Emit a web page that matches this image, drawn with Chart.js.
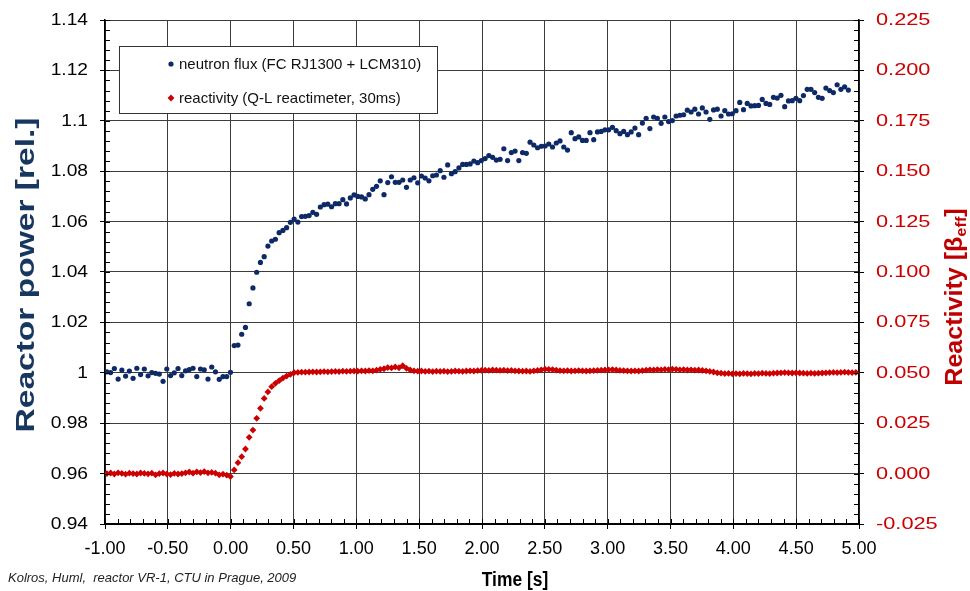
<!DOCTYPE html>
<html>
<head>
<meta charset="utf-8">
<script src="https://cdn.jsdelivr.net/npm/chart.js@4.4.0/dist/chart.umd.min.js"></script>
<style>
  html, body { margin: 0; padding: 0; background: #ffffff; }
  #wrap { width: 970px; height: 591px; position: relative; }
</style>
</head>
<body>
<div id="wrap"><canvas id="chart" width="970" height="591"></canvas></div>
<script>
// Sampling grid of both records (start time and interval, seconds)
const SAMPLE_START = -0.985;
const SAMPLE_STEP = 0.0298;

// Relative reactor power from the fission chamber channel
const neutronFlux = [
  1.0004, 1.0001, 1.0017, 0.9975, 1.0011, 0.9987, 1.0007, 0.9978, 1.0018, 0.9993,
  1.0015, 0.9988, 1.0001, 0.9998, 0.9995, 0.9966, 1.0015, 0.9989, 1.0000, 1.0017,
  0.9989, 1.0008, 1.0013, 1.0018, 0.9985, 1.0015, 1.0012, 0.9975, 1.0023, 1.0004,
  0.9974, 0.9985, 0.9985, 1.0002,
  1.0108, 1.0110, 1.0153, 1.0180, 1.0274, 1.0337, 1.0399, 1.0438, 1.0461, 1.0503,
  1.0523, 1.0530, 1.0556, 1.0565, 1.0576, 1.0597, 1.0610, 1.0598, 1.0620, 1.0621,
  1.0624, 1.0637, 1.0629, 1.0658, 1.0667, 1.0669, 1.0659, 1.0671, 1.0671, 1.0687,
  1.0670, 1.0694, 1.0706, 1.0700, 1.0698, 1.0690, 1.0707, 1.0728, 1.0740, 1.0762,
  1.0707, 1.0755, 1.0778, 1.0756,
  1.0756, 1.0765, 1.0736, 1.0765, 1.0774, 1.0754, 1.0781, 1.0773, 1.0762, 1.0782,
  1.0785, 1.0802, 1.0776, 1.0825, 1.0790, 1.0798, 1.0813, 1.0827, 1.0827, 1.0829,
  1.0840, 1.0834, 1.0842, 1.0850, 1.0862, 1.0855, 1.0844, 1.0847, 1.0889, 1.0842,
  1.0874, 1.0880, 1.0842, 1.0874, 1.0871, 1.0915, 1.0904, 1.0893, 1.0899, 1.0900,
  1.0908, 1.0896, 1.0912, 1.0920, 1.0896, 1.0884, 1.0953, 1.0929, 1.0936, 1.0922,
  1.0922, 1.0953, 1.0925, 1.0956, 1.0958, 1.0964, 1.0964, 1.0974, 1.0961, 1.0949,
  1.0958, 1.0945, 1.0956, 1.0971, 1.0945, 1.0991, 1.1010, 1.0969, 1.1015, 1.1010,
  1.0990, 1.1015, 1.0997, 1.1001, 1.1019, 1.1022, 1.1024, 1.1042, 1.1035, 1.1046,
  1.1027, 1.1051, 1.1035, 1.1006, 1.1043, 1.1046, 1.1019, 1.1040, 1.1027, 1.1028,
  1.1040, 1.1073, 1.1044, 1.1069, 1.1059, 1.1060, 1.1061, 1.1085, 1.1069, 1.1065,
  1.1093, 1.1090, 1.1101, 1.1056, 1.1079, 1.1080, 1.1089, 1.1080, 1.1100, 1.1125,
  1.1125, 1.1112, 1.1093, 1.1089, 1.1130, 1.1120, 1.1112, 1.1143, 1.1125, 1.1135,
  1.1122
];

// Reactivity from the inverse-kinetics reactimeter, in units of beta_eff
const reactivity = [
  0.0000, 0.0003, -0.0002, 0.0004, 0.0001, -0.0003, 0.0002, 0.0000, -0.0002, 0.0003,
  0.0001, -0.0001, 0.0002, -0.0006, 0.0000, 0.0003, -0.0002, -0.0005, 0.0001, -0.0002,
  0.0000, 0.0004, 0.0008, 0.0002, 0.0009, 0.0005, 0.0010, 0.0004, 0.0006, 0.0002,
  -0.0006, -0.0003, -0.0008, -0.0015,
  0.0018, 0.0054, 0.0084, 0.0122, 0.0180, 0.0216, 0.0274, 0.0324, 0.0373, 0.0405,
  0.0431, 0.0448, 0.0461, 0.0474, 0.0484, 0.0492,
  0.0501, 0.0502, 0.0503, 0.0503, 0.0504, 0.0505, 0.0504, 0.0505, 0.0506, 0.0505,
  0.0506, 0.0507, 0.0506, 0.0508, 0.0507, 0.0508, 0.0509, 0.0508, 0.0510, 0.0509,
  0.0511, 0.0510, 0.0513, 0.0517, 0.0520, 0.0526, 0.0524, 0.0529, 0.0525, 0.0535,
  0.0522, 0.0514, 0.0510, 0.0508, 0.0509, 0.0507, 0.0508, 0.0506, 0.0508, 0.0507,
  0.0508, 0.0506, 0.0507, 0.0509, 0.0508, 0.0507, 0.0509, 0.0510, 0.0509, 0.0511,
  0.0512, 0.0513, 0.0512, 0.0514, 0.0513, 0.0512, 0.0513, 0.0511, 0.0512, 0.0510,
  0.0509, 0.0508, 0.0509, 0.0507, 0.0510, 0.0512, 0.0515, 0.0518, 0.0517, 0.0516,
  0.0513, 0.0511, 0.0510, 0.0511, 0.0509, 0.0510, 0.0511, 0.0510, 0.0509, 0.0510,
  0.0511, 0.0512, 0.0513, 0.0514, 0.0515, 0.0516, 0.0514, 0.0512, 0.0511, 0.0510,
  0.0509, 0.0510, 0.0509, 0.0511, 0.0513, 0.0515, 0.0514, 0.0516, 0.0515, 0.0517,
  0.0516, 0.0518, 0.0517, 0.0515, 0.0516, 0.0514, 0.0515, 0.0513, 0.0514, 0.0512,
  0.0510, 0.0507, 0.0504, 0.0500, 0.0498, 0.0496, 0.0497, 0.0495, 0.0496, 0.0495,
  0.0497, 0.0496, 0.0495, 0.0497, 0.0496, 0.0498, 0.0497, 0.0496, 0.0498, 0.0499,
  0.0500, 0.0501, 0.0500, 0.0499, 0.0500, 0.0499, 0.0498, 0.0497, 0.0498, 0.0497,
  0.0498, 0.0499, 0.0500, 0.0501, 0.0502, 0.0501, 0.0502, 0.0503, 0.0502, 0.0501,
  0.0502
];

// Axis ticks
const timeTicks = [-1.0, -0.5, 0.0, 0.5, 1.0, 1.5, 2.0, 2.5, 3.0, 3.5, 4.0, 4.5, 5.0];
const powerTicks = [0.94, 0.96, 0.98, 1.0, 1.02, 1.04, 1.06, 1.08, 1.10, 1.12, 1.14];
const reactivityTicks = [-0.025, 0.0, 0.025, 0.05, 0.075, 0.1, 0.125, 0.15, 0.175, 0.2, 0.225];

const seriesNames = ['neutron flux (FC RJ1300 + LCM310)', 'reactivity (Q-L reactimeter, 30ms)'];
const BLUE = '#0d2a66';
const RED = '#cc0000';
const TITLE_BLUE = '#17375e';
const TITLE_RED = '#c00000';
const SANS = '"Liberation Sans", Arial, sans-serif';

const fmtTime = (v) => v.toFixed(2);
const fmtPower = (v) => String(Number(v.toFixed(2)));
const fmtReactivity = (v) => v.toFixed(3);

const toPoints = (vals) => vals.map((v, i) => ({ x: SAMPLE_START + i * SAMPLE_STEP, y: v }));

function fixTicks(values) {
  return (scale) => { scale.ticks = values.map(v => ({ value: v })); };
}

// text drawn with independent horizontal / vertical scaling
function stretchedText(ctx, text, x, y, sx, sy, align, angle) {
  ctx.save();
  ctx.translate(x, y);
  if (angle) ctx.rotate(angle);
  ctx.scale(sx, sy);
  ctx.textAlign = align;
  ctx.textBaseline = 'middle';
  ctx.fillText(text, 0, 0);
  ctx.restore();
}

// Inward minor ticks, tick labels, legend and titles
const decorations = {
  id: 'decorations',
  beforeDraw(chart) {
    const ctx = chart.ctx;
    ctx.save();
    ctx.fillStyle = '#ffffff';
    ctx.fillRect(0, 0, chart.width, chart.height);
    ctx.restore();
  },
  afterDatasetsDraw(chart) {
    const { ctx, chartArea: a, scales } = chart;
    ctx.save();
    ctx.strokeStyle = '#000';
    ctx.lineWidth = 1;
    ctx.beginPath();
    for (let k = 0; k <= 50; k++) {
      const y = Math.round(scales.y.getPixelForValue(0.94 + k * 0.004)) + 0.5;
      ctx.moveTo(a.left, y); ctx.lineTo(a.left + 5, y);
    }
    for (let k = 0; k <= 50; k++) {
      const y = Math.round(scales.y2.getPixelForValue(-0.025 + k * 0.005)) + 0.5;
      ctx.moveTo(a.right, y); ctx.lineTo(a.right - 5, y);
    }
    for (let k = 0; k <= 60; k++) {
      const x = Math.round(scales.x.getPixelForValue(-1 + k * 0.1)) + 0.5;
      ctx.moveTo(x, a.bottom); ctx.lineTo(x, a.bottom - 5);
    }
    ctx.stroke();
    ctx.restore();
  },
  afterDraw(chart) {
    const { ctx, scales } = chart;
    ctx.save();

    // tick labels
    ctx.fillStyle = '#000';
    ctx.font = '16px ' + SANS;
    powerTicks.forEach(v => {
      stretchedText(ctx, fmtPower(v), 88, scales.y.getPixelForValue(v) + 0.5, 1.2, 1, 'right');
    });
    ctx.fillStyle = RED;
    reactivityTicks.forEach(v => {
      stretchedText(ctx, fmtReactivity(v), 876, scales.y2.getPixelForValue(v) + 0.5, 1.36, 1, 'left');
    });
    ctx.fillStyle = '#000';
    ctx.font = '19px ' + SANS;
    timeTicks.forEach(v => {
      stretchedText(ctx, fmtTime(v), scales.x.getPixelForValue(v), 549, 0.95, 1, 'center');
    });

    // legend box
    const bx = 119.5, by = 46.5, bw = 318, bh = 67;
    ctx.fillStyle = '#ffffff';
    ctx.fillRect(bx, by, bw, bh);
    ctx.strokeStyle = '#333';
    ctx.lineWidth = 1;
    ctx.strokeRect(bx, by, bw, bh);
    ctx.font = '15px ' + SANS;
    ctx.textBaseline = 'middle';
    ctx.textAlign = 'left';
    [64, 98].forEach((ry, i) => {
      ctx.fillStyle = i === 0 ? BLUE : RED;
      ctx.beginPath();
      if (i === 0) {
        ctx.arc(171, ry, 2.6, 0, Math.PI * 2);
      } else {
        ctx.moveTo(171, ry - 3.4); ctx.lineTo(174.4, ry); ctx.lineTo(171, ry + 3.4); ctx.lineTo(167.6, ry);
        ctx.closePath();
      }
      ctx.fill();
      ctx.fillStyle = '#111';
      ctx.fillText(seriesNames[i], 179, ry + 1);
    });

    // left axis title
    ctx.font = 'bold 26px ' + SANS;
    ctx.fillStyle = TITLE_BLUE;
    stretchedText(ctx, 'Reactor power [rel.]', 27, 275, 1.29, 1, 'center', -Math.PI / 2);

    // right axis title with subscript
    ctx.save();
    ctx.translate(956, 297);
    ctx.rotate(-Math.PI / 2);
    ctx.scale(1.09, 1);
    ctx.fillStyle = TITLE_RED;
    ctx.textBaseline = 'middle';
    ctx.textAlign = 'left';
    const mainFont = 'bold 23px ' + SANS;
    const subFont = 'bold 15px ' + SANS;
    ctx.font = mainFont;
    const p1 = 'Reactivity [\u03b2';
    const w1 = ctx.measureText(p1).width;
    const w3 = ctx.measureText(']').width;
    ctx.font = subFont;
    const w2 = ctx.measureText('eff').width;
    const x0 = -(w1 + w2 + w3) / 2;
    ctx.font = mainFont;
    ctx.fillText(p1, x0, 0);
    ctx.font = subFont;
    ctx.fillText('eff', x0 + w1, 6);
    ctx.font = mainFont;
    ctx.fillText(']', x0 + w1 + w2, 0);
    ctx.restore();

    // x axis title
    ctx.font = 'bold 20px ' + SANS;
    ctx.fillStyle = '#000';
    stretchedText(ctx, 'Time [s]', 515, 580, 0.87, 1, 'center');

    // credit line
    ctx.font = 'italic 13px ' + SANS;
    ctx.fillStyle = '#222';
    stretchedText(ctx, 'Kolros, Huml,  reactor VR-1, CTU in Prague, 2009', 8, 578, 1, 1, 'left');

    ctx.restore();
  }
};

const gridColor = '#3c3c3c';

new Chart(document.getElementById('chart'), {
  type: 'scatter',
  data: {
    datasets: [
      {
        label: seriesNames[0],
        data: toPoints(neutronFlux),
        yAxisID: 'y',
        pointStyle: 'circle',
        pointRadius: 2.6,
        pointBackgroundColor: BLUE,
        pointBorderWidth: 0,
        showLine: false
      },
      {
        label: seriesNames[1],
        data: toPoints(reactivity),
        yAxisID: 'y2',
        pointStyle: 'rectRot',
        pointRadius: 3.4,
        pointBackgroundColor: RED,
        pointBorderWidth: 0,
        showLine: false
      }
    ]
  },
  options: {
    responsive: false,
    animation: false,
    layout: { padding: { top: 20, left: 0, right: 0, bottom: 0 } },
    plugins: {
      legend: { display: false },
      tooltip: { enabled: false }
    },
    scales: {
      x: {
        type: 'linear',
        min: -1, max: 5,
        afterBuildTicks: fixTicks(timeTicks),
        afterFit: (s) => { s.height = 67; },
        ticks: { display: false },
        grid: { color: gridColor, lineWidth: 1, tickLength: 5, tickColor: '#000' },
        border: { color: '#000', width: 2 }
      },
      y: {
        position: 'left',
        min: 0.94, max: 1.14,
        afterBuildTicks: fixTicks(powerTicks),
        afterFit: (s) => { s.width = 105; },
        ticks: { display: false },
        grid: { color: gridColor, lineWidth: 1, tickLength: 5, tickColor: '#000' },
        border: { color: '#000', width: 1.5 }
      },
      y2: {
        position: 'right',
        min: -0.025, max: 0.225,
        afterBuildTicks: fixTicks(reactivityTicks),
        afterFit: (s) => { s.width = 111; },
        ticks: { display: false },
        grid: { drawOnChartArea: false, tickLength: 5, tickColor: '#000' },
        border: { color: '#000', width: 1.5 }
      }
    }
  },
  plugins: [decorations]
});
</script>
</body>
</html>
